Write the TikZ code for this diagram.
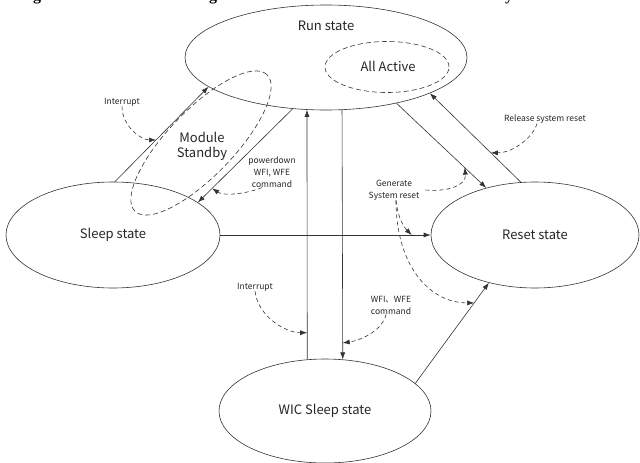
\documentclass[tikz,border=0pt]{standalone}
\usepackage{fontspec}
\setmainfont{Noto Sans CJK JP}
\newfontfamily\titlefont{Liberation Serif}
\usetikzlibrary{shapes.geometric,arrows.meta}
\begin{document}
\begin{tikzpicture}[x=1pt,y=-1pt,
  state/.style={draw=black!80, line width=0.6pt, ellipse, inner sep=0pt,
    font=\fontsize{13}{15}\selectfont, text=black!85},
  sub/.style={draw=black!80, line width=0.6pt, dash pattern=on 5pt off 3pt, ellipse, inner sep=0pt},
  big/.style={font=\fontsize{13}{15}\selectfont, text=black!85, align=center, inner sep=0pt},
  small/.style={font=\fontsize{8.5}{12}\selectfont, text=black!85, align=center, inner sep=0pt},
  tr/.style={draw=black!80, line width=0.6pt, -{Latex[length=7pt,width=5pt]}},
  cue/.style={draw=black!80, line width=0.6pt, dash pattern=on 4pt off 3pt, -{Latex[length=7pt,width=5pt]}},
  frag/.style={font=\titlefont\bfseries\fontsize{16}{16}\selectfont, anchor=base, inner sep=0pt}]

\useasboundingbox (0,0) rectangle (640,463);
\fill[white] (0,0) rectangle (640,463);

% cut-off title fragments
\begin{scope}
  \clip (0,0) rectangle (640,5);
  \node[frag] (tg1) at (37,1) {g};
  \node[frag] (tg2) at (213,1) {g};
  \node[frag] (ty) at (509,1) {y};
\end{scope}

% states
\node[state, minimum width=282pt, minimum height=105pt] (run) at (326,57.5) {};
\node[big] (runl) at (326,26) {Run state};
\node[sub, minimum width=124pt, minimum height=51pt] (allact) at (387,67) {};
\node[big] (alll) at (388,66) {All Active};
\node[sub, minimum width=190pt, minimum height=66pt, rotate=46] (modsb) at (201,143) {};
\node[big] (modl) at (202,146) {Module\\Standby};
\node[state, minimum width=214pt, minimum height=106pt] (sleep) at (113,235) {Sleep state};
\node[state, minimum width=208pt, minimum height=106pt] (reset) at (535,235) {Reset state};
\node[state, minimum width=212pt, minimum height=104pt] (wic) at (325,411) {WIC Sleep state};

% transitions
\draw[tr] (sleep.88) -- coordinate[pos=0.44] (t1) (run.194.4);
\draw[tr] (run.237.1) -- coordinate[pos=0.85] (t2) (sleep.21);
\draw[tr] (wic.109) -- coordinate[pos=0.107] (t3) (run.250.1);
\draw[tr] (run.287.9) -- coordinate[pos=0.934] (t4) (wic.71.2);
\draw[tr] (sleep.east) -- coordinate[pos=0.91] (t5) (reset.west);
\draw[tr] (run.327.7) -- coordinate[pos=0.76] (t6) (reset.136.7);
\draw[tr] (reset.105.8) -- coordinate[pos=0.33] (t7) (run.341);
\draw[tr] (wic.17.9) -- coordinate[pos=0.8] (t8) (reset.226.8);

% labels
\node[small] (int1) at (122,102) {Interrupt};
\node[small] (pd) at (272,172) {powerdown\\WFI, WFE\\command};
\node[small] (rel) at (545,119) {Release system reset};
\node[small] (gen) at (394,190) {Generate\\System reset};
\node[small] (wfi) at (391,305) {WFI、WFE\\command};
\node[small] (int2) at (255,287) {Interrupt};

% event cues
\draw[cue] (int1.south) .. controls +(0,20) and +(-15,0) .. (t1);
\draw[cue] ([xshift=-10pt]pd.south) .. controls +(-15,6) and +(12,8) .. (t2);
\draw[cue] ([xshift=-8pt]rel.south) .. controls +(-4,14) and +(22,0) .. (t7);
\draw[cue] ([xshift=6pt]gen.east) .. controls +(22,2) and +(2,18) .. (t6);
\draw[cue] ([xshift=2pt]gen.south) .. controls +(2,18) and +(-8,-8) .. (t5);
\draw[cue] ([xshift=2pt]gen.south) .. controls +(0,65) and +(-45,0) .. (t8);
\draw[cue] ([xshift=-5pt]wfi.south) .. controls +(-3,15) and +(20,-3) .. (t4);
\draw[cue] (int2.south) .. controls +(3,25) and +(-22,0) .. (t3);
\end{tikzpicture}
\end{document}
